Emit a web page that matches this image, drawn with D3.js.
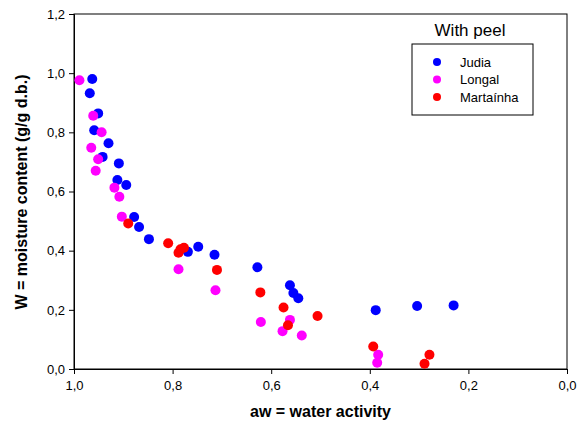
<!DOCTYPE html>
<html>
<head>
<meta charset="utf-8">
<script src="https://cdn.jsdelivr.net/npm/d3@7"></script>
<style>
  body { margin: 0; background: #fff; }
  text { font-family: Arial, "Liberation Sans", sans-serif; }
</style>
</head>
<body>
<script>
// data: aw (water activity) and W (moisture content)
const judiaAw = [0.963, 0.968, 0.951, 0.959, 0.930, 0.942, 0.909, 0.912, 0.894, 0.878, 0.868, 0.848, 0.769, 0.748, 0.715, 0.628, 0.562, 0.555, 0.545, 0.388, 0.304, 0.230];
const judiaW  = [0.980, 0.932, 0.864, 0.807, 0.763, 0.717, 0.695, 0.639, 0.622, 0.514, 0.480, 0.439, 0.396, 0.413, 0.386, 0.344, 0.283, 0.257, 0.239, 0.199, 0.213, 0.215];

const longalAw = [0.989, 0.961, 0.944, 0.965, 0.951, 0.956, 0.918, 0.908, 0.903, 0.788, 0.713, 0.621, 0.562, 0.577, 0.538, 0.383, 0.385];
const longalW  = [0.976, 0.856, 0.800, 0.748, 0.709, 0.670, 0.613, 0.582, 0.515, 0.337, 0.266, 0.159, 0.166, 0.128, 0.113, 0.048, 0.021];

const martAw = [0.890, 0.809, 0.788, 0.784, 0.777, 0.710, 0.622, 0.575, 0.566, 0.506, 0.393, 0.279, 0.289];
const martW  = [0.492, 0.425, 0.393, 0.405, 0.410, 0.335, 0.259, 0.208, 0.148, 0.179, 0.076, 0.048, 0.018];

const seriesNames = ['Judia', 'Longal', 'Martaínha'];
const seriesColors = ['#0000ff', '#ff00ff', '#ff0000'];
const xTicks = [1.0, 0.8, 0.6, 0.4, 0.2, 0.0];
const yTicks = [0.0, 0.2, 0.4, 0.6, 0.8, 1.0, 1.2];

const width = 578, height = 432;
const margin = {left: 74, right: 11, top: 14, bottom: 63};

const svg = d3.select('body').append('svg')
  .attr('width', width)
  .attr('height', height);

const x = d3.scaleLinear().domain([1, 0]).range([margin.left, width - margin.right]);
const y = d3.scaleLinear().domain([0, 1.2]).range([height - margin.bottom, margin.top]);

const fmt = d => d3.format('.1f')(d).replace('.', ',');

// frame
svg.append('rect')
  .attr('x', margin.left)
  .attr('y', margin.top)
  .attr('width', width - margin.left - margin.right)
  .attr('height', height - margin.top - margin.bottom)
  .attr('fill', 'none')
  .attr('stroke', '#000')
  .attr('stroke-width', 1);

const xAxis = svg.append('g')
  .attr('transform', `translate(0,${height - margin.bottom})`)
  .call(d3.axisBottom(x).tickValues(xTicks).tickFormat(fmt).tickSize(5).tickPadding(7));

const yAxis = svg.append('g')
  .attr('transform', `translate(${margin.left},0)`)
  .call(d3.axisLeft(y).tickValues(yTicks).tickFormat(fmt).tickSize(5).tickPadding(4));

[xAxis, yAxis].forEach(g => {
  g.selectAll('text').attr('font-size', 13).attr('font-family', 'Arial, "Liberation Sans", sans-serif').attr('fill', '#000');
  g.selectAll('line').attr('stroke', '#000');
  g.select('.domain').attr('stroke', '#000');
});

// points
const series = [
  judiaAw.map((a, i) => ({aw: a, w: judiaW[i]})),
  longalAw.map((a, i) => ({aw: a, w: longalW[i]})),
  martAw.map((a, i) => ({aw: a, w: martW[i]}))
];

series.forEach((pts, k) => {
  svg.append('g').selectAll('circle')
    .data(pts)
    .enter()
    .append('circle')
    .attr('cx', d => x(d.aw))
    .attr('cy', d => y(d.w))
    .attr('r', 5)
    .attr('fill', seriesColors[k]);
});

// axis titles
svg.append('text')
  .attr('x', (margin.left + width - margin.right) / 2)
  .attr('y', 417)
  .attr('text-anchor', 'middle')
  .attr('font-size', 16)
  .attr('font-weight', 'bold')
  .text('aw = water activity');

svg.append('text')
  .attr('transform', `translate(27,192) rotate(-90)`)
  .attr('text-anchor', 'middle')
  .attr('font-size', 16)
  .attr('font-weight', 'bold')
  .text('W = moisture content (g/g d.b.)');

// legend
svg.append('text')
  .attr('x', 470)
  .attr('y', 36)
  .attr('text-anchor', 'middle')
  .attr('font-size', 17)
  .text('With peel');

svg.append('rect')
  .attr('x', 412)
  .attr('y', 44)
  .attr('width', 121)
  .attr('height', 71)
  .attr('fill', '#fff')
  .attr('stroke', '#000');

const legend = svg.append('g').selectAll('g')
  .data(seriesNames)
  .enter()
  .append('g')
  .attr('transform', (d, i) => `translate(437,${62 + i * 17.5})`);

legend.append('circle')
  .attr('r', 4)
  .attr('fill', (d, i) => seriesColors[i]);

legend.append('text')
  .attr('x', 23)
  .attr('y', 4.5)
  .attr('font-size', 13)
  .text(d => d);
</script>
</body>
</html>
